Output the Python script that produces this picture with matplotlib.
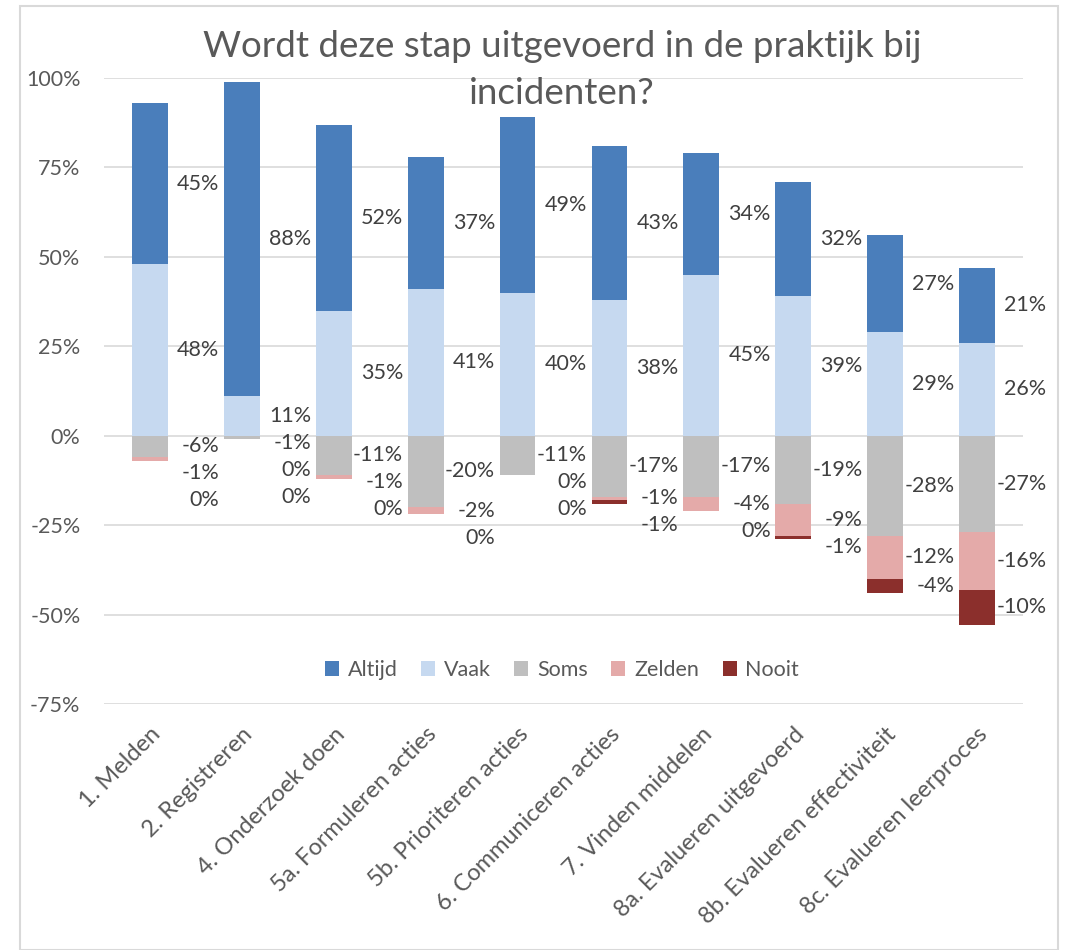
import matplotlib
matplotlib.use("Agg")
import matplotlib.pyplot as plt
from matplotlib.patches import Rectangle
from matplotlib.ticker import FixedLocator, FuncFormatter
import numpy as np

plt.rcParams['font.family'] = ['Lato', 'DejaVu Sans']

title = "Wordt deze stap uitgevoerd in de praktijk bij\nincidenten?"
categories = ["1. Melden", "2. Registreren", "4. Onderzoek doen", "5a. Formuleren acties",
              "5b. Prioriteren acties", "6. Communiceren acties", "7. Vinden middelen",
              "8a. Evalueren uitgevoerd", "8b. Evalueren effectiviteit", "8c. Evalueren leerproces"]
series_names = ["Altijd", "Vaak", "Soms", "Zelden", "Nooit"]
altijd = [45, 88, 52, 37, 49, 43, 34, 32, 27, 21]
vaak = [48, 11, 35, 41, 40, 38, 45, 39, 29, 26]
soms = [-6, -1, -11, -20, -11, -17, -17, -19, -28, -27]
zelden = [-1, 0, -1, -2, 0, -1, -4, -9, -12, -16]
nooit = [0, 0, 0, 0, 0, -1, 0, -1, -4, -10]
y_ticks = [1.0, 0.75, 0.5, 0.25, 0.0, -0.25, -0.5, -0.75]

colors = {"Altijd": "#4A7EBB", "Vaak": "#C6D9F0", "Soms": "#BFBFBF",
          "Zelden": "#E4AAA9", "Nooit": "#8B2F2C"}

W, H = 1069, 950
fig = plt.figure(figsize=(W / 100, H / 100), dpi=100)
fig.patch.set_facecolor("white")
fig.add_artist(Rectangle((20 / W, 0), (1058 - 20) / W, (950 - 6) / H, transform=fig.transFigure,
                         fill=False, edgecolor="#D9D9D9", lw=1.5))

ax = fig.add_axes([104 / W, 1 - 704 / H, (1023 - 104) / W, (704 - 78) / H])
x = np.arange(len(categories))
bw = 0.39

a = np.array(altijd) / 100
v = np.array(vaak) / 100
s = np.array(soms) / 100
z = np.array(zelden) / 100
n = np.array(nooit) / 100

ax.bar(x, v, bw, bottom=0, color=colors["Vaak"], label="Vaak", zorder=3)
ax.bar(x, a, bw, bottom=v, color=colors["Altijd"], label="Altijd", zorder=3)
ax.bar(x, s, bw, bottom=0, color=colors["Soms"], label="Soms", zorder=3)
ax.bar(x, z, bw, bottom=s, color=colors["Zelden"], label="Zelden", zorder=3)
ax.bar(x, n, bw, bottom=s + z, color=colors["Nooit"], label="Nooit", zorder=3)

# data labels: right of bar, centered on segment, pushed down to avoid overlap
gap = 0.075
for i in range(len(categories)):
    segs = [(altijd[i], v[i] + a[i] / 2), (vaak[i], v[i] / 2), (soms[i], s[i] / 2),
            (zelden[i], s[i] + z[i] / 2), (nooit[i], s[i] + z[i] + n[i] / 2)]
    prev = None
    for val, yc in segs:
        if prev is not None and yc > prev - gap:
            yc = prev - gap
        prev = yc
        ax.text(x[i] + 0.755, yc, f"{val}%", ha="right", va="center",
                fontsize=15.5, color="#404040", zorder=4)

ax.set_xlim(-0.5, len(categories) - 0.5)
ax.set_ylim(-0.75, 1.0)
ax.yaxis.set_major_locator(FixedLocator(y_ticks))
ax.yaxis.set_major_formatter(FuncFormatter(lambda t, p: f"{int(round(t * 100))}%"))
ax.grid(axis="y", color="#D9D9D9", lw=1.2, zorder=0)
ax.set_axisbelow(True)
for sp in ax.spines.values():
    sp.set_visible(False)
ax.tick_params(axis="y", length=0, pad=17, labelsize=15.5, labelcolor="#595959")
ax.set_xticks(x)
ax.set_xticklabels(categories, rotation=45, ha="right", va="top", rotation_mode="anchor")
ax.tick_params(axis="x", length=0, pad=14, labelsize=17, labelcolor="#595959")

handles, labels = ax.get_legend_handles_labels()
order = [labels.index(nm) for nm in series_names]
leg = fig.legend([handles[k] for k in order], [labels[k] for k in order],
                 loc="center", bbox_to_anchor=(562 / W, 1 - 670 / H), ncol=5, frameon=False,
                 fontsize=15.5, handlelength=0.65, handleheight=0.65, handletextpad=0.4,
                 columnspacing=1.1, labelcolor="#595959")

fig.text(562 / W, 1 - 70 / H, title, ha="center", va="center", fontsize=26.5,
         color="#595959", linespacing=1.55)

fig.savefig("out.png", dpi=100)
